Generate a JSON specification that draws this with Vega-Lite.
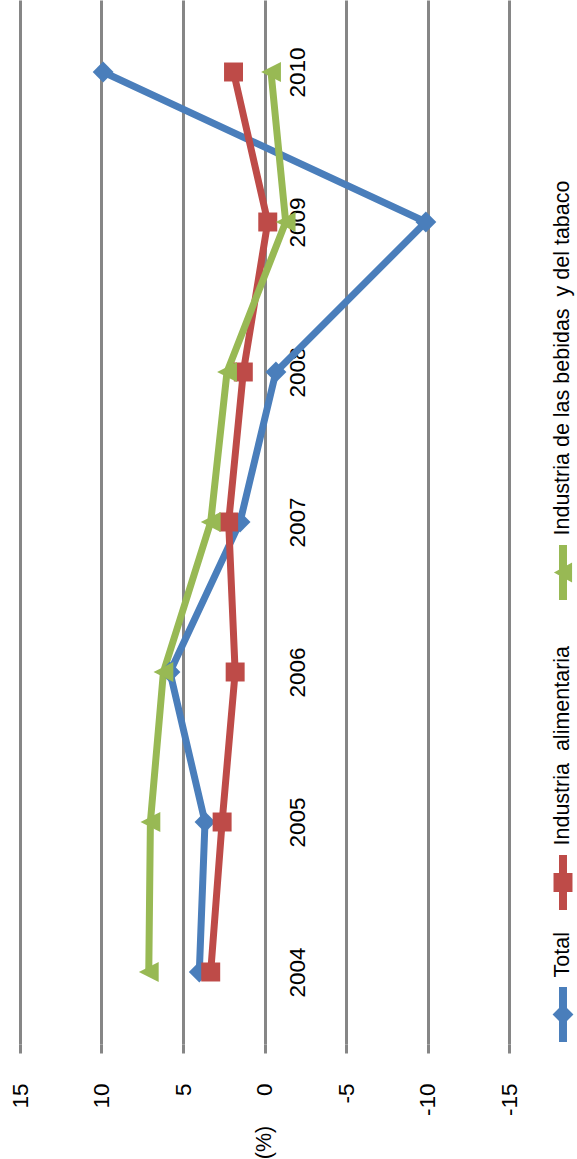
{
  "$schema": "https://vega.github.io/schema/vega-lite/v6.json",
  "width": 489,
  "height": 1044,
  "autosize": "none",
  "padding": {"left": 20, "top": 0, "right": 68, "bottom": 115},
  "background": "white",
  "config": {"view": {"stroke": null}, "font": "Liberation Sans"},
  "data": {
    "values": [
      {"year": 2004, "series": "Total", "value": 4.0},
      {"year": 2005, "series": "Total", "value": 3.65},
      {"year": 2006, "series": "Total", "value": 5.8},
      {"year": 2007, "series": "Total", "value": 1.5},
      {"year": 2008, "series": "Total", "value": -0.7},
      {"year": 2009, "series": "Total", "value": -9.9},
      {"year": 2010, "series": "Total", "value": 9.9},
      {"year": 2004, "series": "Industria  alimentaria", "value": 3.3},
      {"year": 2005, "series": "Industria  alimentaria", "value": 2.6},
      {"year": 2006, "series": "Industria  alimentaria", "value": 1.8},
      {"year": 2007, "series": "Industria  alimentaria", "value": 2.2},
      {"year": 2008, "series": "Industria  alimentaria", "value": 1.3},
      {"year": 2009, "series": "Industria  alimentaria", "value": -0.2},
      {"year": 2010, "series": "Industria  alimentaria", "value": 1.9},
      {"year": 2004, "series": "Industria de las bebidas  y del tabaco", "value": 7.1},
      {"year": 2005, "series": "Industria de las bebidas  y del tabaco", "value": 7.0},
      {"year": 2006, "series": "Industria de las bebidas  y del tabaco", "value": 6.2},
      {"year": 2007, "series": "Industria de las bebidas  y del tabaco", "value": 3.3},
      {"year": 2008, "series": "Industria de las bebidas  y del tabaco", "value": 2.3},
      {"year": 2009, "series": "Industria de las bebidas  y del tabaco", "value": -1.3},
      {"year": 2010, "series": "Industria de las bebidas  y del tabaco", "value": -0.4}
    ]
  },
  "encoding": {
    "x": {
      "field": "value", "type": "quantitative",
      "scale": {"domain": [-15, 15], "reverse": true, "nice": false, "zero": false},
      "axis": {
        "values": [-15, -10, -5, 0, 5, 10, 15],
        "labelExpr": "'' + datum.value",
        "grid": true, "gridColor": "#868686", "gridWidth": 3,
        "ticks": true, "tickColor": "#868686", "tickWidth": 3, "tickSize": 9,
        "domain": false,
        "labelAngle": -90, "labelAlign": "right", "labelBaseline": "middle",
        "labelPadding": 30, "labelFontSize": 22.5, "labelColor": "black",
        "labelFlush": false, "labelOverlap": false,
        "title": "(%)", "titleAngle": -90, "titleFontSize": 21.5, "titleFontWeight": "normal",
        "titleColor": "black", "titleAlign": "center", "titleBaseline": "middle",
        "titleX": 244.5, "titleY": 98
      }
    },
    "y": {
      "field": "year", "type": "ordinal", "sort": "descending",
      "scale": {"type": "point", "padding": 0.48},
      "axis": {
        "orient": "right", "offset": -244.5,
        "grid": false, "ticks": false, "domain": false,
        "labelAngle": -90, "labelAlign": "center", "labelBaseline": "top",
        "labelPadding": 22, "labelFontSize": 22.5, "labelColor": "black",
        "title": null
      }
    },
    "color": {
      "field": "series", "type": "nominal",
      "scale": {
        "domain": ["Industria de las bebidas  y del tabaco", "Industria  alimentaria", "Total"],
        "range": ["#98B954", "#BE4B48", "#4A7EBB"]
      },
      "legend": {
        "orient": "none", "legendX": 533, "legendY": 545,
        "direction": "vertical", "title": null, "padding": 0,
        "rowPadding": 22, "symbolSize": 3025, "symbolStrokeWidth": 0,
        "labelFontSize": 21.5, "labelColor": "black", "labelLimit": 0,
        "encode": {
          "symbols": {
            "update": {
              "shape": {"signal": "datum.value == 'Total' ? 'M-0.145,-1L0.145,-1L0.145,1L-0.145,1ZM0,-0.38L0.38,0L0,0.38L-0.38,0Z' : datum.value == 'Industria  alimentaria' ? 'M-0.145,-1L0.145,-1L0.145,1L-0.145,1ZM-0.345,-0.345L0.345,-0.345L0.345,0.345L-0.345,0.345Z' : 'M-0.145,-1L0.145,-1L0.145,1L-0.145,1ZM-0.33,0L0.33,-0.36L0.33,0.36Z'"},
              "fill": {"signal": "scale('color', datum.value)"},
              "strokeWidth": {"value": 0},
              "x": {"value": 10}
            }
          },
          "labels": {
            "update": {
              "text": {"signal": "replace(datum.label, '  ', ' \u00a0') + (datum.value == 'Industria  alimentaria' ? '\u00a0\u00a0\u00a0\u00a0\u200b' : '')"},
              "angle": {"value": -90},
              "align": {"value": "left"},
              "baseline": {"value": "middle"},
              "dx": {"value": 37},
              "x": {"value": 10}
            }
          }
        }
      }
    }
  },
  "layer": [
    {
      "mark": {"type": "line", "strokeWidth": 7, "strokeCap": "round", "strokeJoin": "round"},
      "encoding": {
        "order": {"field": "year", "type": "quantitative"}
      }
    },
    {
      "transform": [{"filter": "datum.series == 'Total'"}],
      "mark": {"type": "point", "filled": true, "size": 3025, "opacity": 1, "strokeWidth": 0, "shape": "M0,-0.38L0.38,0L0,0.38L-0.38,0Z"}
    },
    {
      "transform": [{"filter": "datum.series == 'Industria  alimentaria'"}],
      "mark": {"type": "point", "filled": true, "size": 3025, "opacity": 1, "strokeWidth": 0, "shape": "M-0.345,-0.345L0.345,-0.345L0.345,0.345L-0.345,0.345Z"}
    },
    {
      "transform": [{"filter": "datum.series == 'Industria de las bebidas  y del tabaco'"}],
      "mark": {"type": "point", "filled": true, "size": 3025, "opacity": 1, "strokeWidth": 0, "shape": "M-0.36,0L0.36,-0.36L0.36,0.36Z"}
    }
  ]
}
